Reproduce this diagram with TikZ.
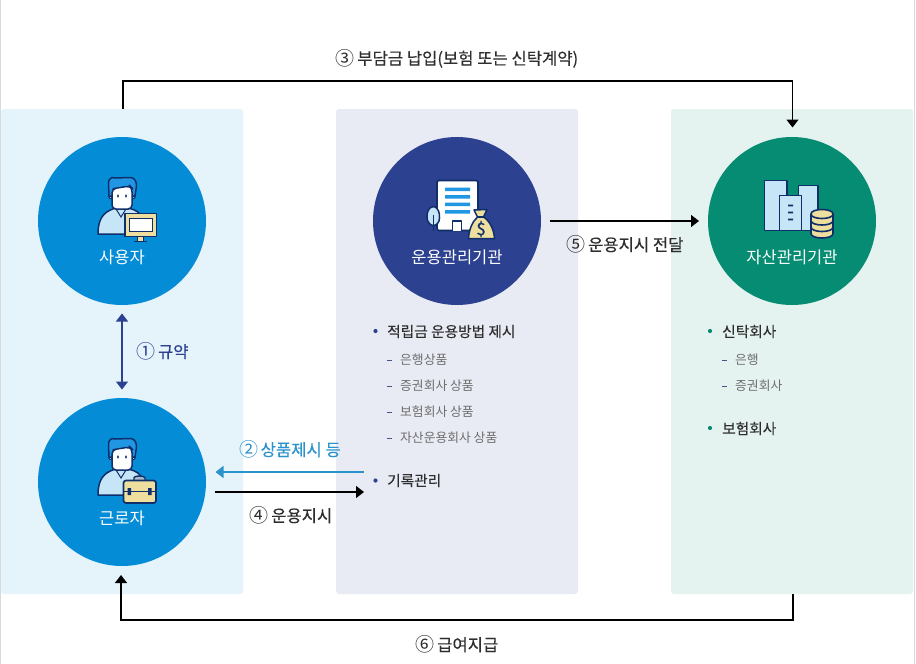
\documentclass[tikz,border=0pt]{standalone}
\usepackage{fontspec}
\setmainfont{Noto Sans CJK KR}
\newfontfamily\medf[FakeBold=0.3]{Noto Sans CJK KR}
\newfontfamily\medg[FakeBold=0.15]{Noto Sans CJK KR}
\newfontfamily\regf{Noto Sans CJK KR}
\newcommand{\cnum}[1]{{\regf\fontsize{19}{18}\selectfont\raisebox{-0.8pt}{#1}}\hspace{-1.2pt}}
\definecolor{pA}{HTML}{E5F3FB}
\definecolor{pB}{HTML}{E8EBF4}
\definecolor{pC}{HTML}{E5F3F0}
\definecolor{cA}{HTML}{048DD6}
\definecolor{cB}{HTML}{2C4190}
\definecolor{cC}{HTML}{068C72}
\definecolor{navy}{HTML}{0F2F6B}
\definecolor{hair}{HTML}{2196E3}
\definecolor{lblue}{HTML}{C6E5F6}
\definecolor{sand}{HTML}{EEDF9F}
\definecolor{tdark}{HTML}{2E2E2E}
\definecolor{tgray}{HTML}{6E6E6E}
\definecolor{arrB}{HTML}{2C4190}
\definecolor{arrL}{HTML}{2A93CC}
\usetikzlibrary{arrows.meta}
\tikzset{
 panel/.style={rounded corners=3pt,inner sep=0pt,minimum width=242pt,minimum height=485pt},
 disc/.style={circle,inner sep=0pt,minimum size=168pt},
 ctitle/.style={text=white,font=\fontsize{16.5}{18}\selectfont,inner sep=0pt,anchor=center},
 lab/.style={font=\medf\fontsize{16.6}{18}\selectfont,inner sep=0pt,anchor=center},
 itemA/.style={text=tdark,font=\medg\fontsize{14.7}{17}\selectfont,inner sep=0pt,anchor=west},
 itemB/.style={text=tgray,font=\fontsize{12.8}{15}\selectfont,inner sep=0pt,anchor=west},
 conn/.style={line width=1.4pt,-{Triangle[length=8pt,width=12pt]}},
 ico/.style={draw=navy,line width=1.5pt,line join=round},
}
\newcommand{\personicon}{%
 \filldraw[ico,fill=lblue] (98,234) .. controls (98,218) and (104,212) .. (114,208.5) -- (130,208.5) .. controls (136,210) and (140,213) .. (141,216) -- (141,234) -- cycle;
 \draw[navy,line width=1pt] (116,209) -- (121,217) -- (126,209);
 \filldraw[ico,fill=lblue,line width=1pt] (110.5,197) circle (1.8pt) (133.5,197) circle (1.8pt);
 \filldraw[ico,fill=hair] (109,196) -- (108.5,184) .. controls (108.5,180) and (110,178) .. (112,177.5) -- (114,178) -- (131,177.5) .. controls (135,178) and (136.5,182) .. (136.5,186) -- (135,196) -- cycle;
 \filldraw[ico,fill=white,rounded corners=4pt] (112,189) -- (117,188) -- (130,186) -- (132,188) -- (132,209) -- (112,209) -- cycle;
 \fill[navy] (118,196) ellipse (1pt and 1.8pt) (126,196) ellipse (1pt and 1.8pt);
}
\begin{document}
\begin{tikzpicture}[x=1pt,y=-1pt]
\useasboundingbox (0,0) rectangle (916,664);
\fill[white] (0,0) rectangle (916,664);
\fill[black!15] (0,0) rectangle (1,664);
\fill[black!15] (914,0) rectangle (915,664);
% panels
\node[panel,fill=pA] (pu) at (122,351.5) {};
\node[panel,fill=pB] (pm) at (457,351.5) {};
\node[panel,fill=pC] (pa) at (792,351.5) {};
% discs
\node[disc,fill=cA] (user) at (122,221) {};
\node[disc,fill=cA] (worker) at (122,482) {};
\node[disc,fill=cB] (mgr) at (457,221) {};
\node[disc,fill=cC] (asset) at (792,221) {};
% icons
\personicon
\begin{scope}[yshift=-261pt]\personicon\end{scope}
% monitor
\filldraw[ico,fill=sand,line width=1.6pt] (125,213.5) rectangle (156.5,236.5);
\fill[white] (129,218) rectangle (152,231.5);
\draw[navy,line width=.8pt] (129,218) rectangle (152,231.5);
\fill[sand] (138,237) rectangle (143,241);
\draw[navy,line width=1pt] (137.5,237) -- (137.5,240.5) (143.5,237) -- (143.5,240.5);
\draw[navy,line width=1.4pt] (134,241.5) -- (147,241.5);
% briefcase
\filldraw[ico,fill=lblue!60!gray,line width=1.4pt] (134,481) -- (134,477.5) .. controls (135,475.5) and (143,475.5) .. (145,477.5) -- (145,481);
\filldraw[ico,fill=sand,rounded corners=2.5pt,line width=1.7pt] (123.5,480.5) rectangle (156,503);
\draw[navy,line width=1pt] (123.5,491) -- (156,491);
\fill[navy] (127.5,488) rectangle (131,495) (148,488) rectangle (151.5,495);
% building
\filldraw[ico,fill=white,rounded corners=1.5pt,line width=1.7pt] (437,180.5) rectangle (478,230.5);
\fill[hair] (445,187.5) rectangle (470,191) (445,195) rectangle (470,198.5) (445,202.5) rectangle (470,206) (445,210) rectangle (470,213.5);
\draw[ico,fill=white] (452.7,230.5) -- (452.7,221) -- (461.7,221) -- (461.7,230.5);
\filldraw[ico,fill=lblue] (433.3,206.5) .. controls (428,207) and (426.5,214) .. (427,218) .. controls (427.5,223) and (431,225.5) .. (433.3,225.5) .. controls (436,225.5) and (439.5,223) .. (439.5,218) .. controls (440,214) and (438.5,207) .. (433.3,206.5) -- cycle;
\draw[navy,line width=1.4pt] (433.3,215) -- (433.3,231);
\filldraw[ico,fill=sand] (474,210) -- (487,209.5) -- (483.5,217) .. controls (490,221) and (494,230) .. (494.5,238.5) -- (468.5,238.5) .. controls (469,230) and (472,222) .. (477.5,217) -- cycle;
\draw[navy,line width=1.2pt] (477,217) -- (484.5,217);
\node[inner sep=0pt,text=navy,font=\medf\fontsize{17}{17}\selectfont] (dollar) at (481,229) {\$};
% assets
\filldraw[ico,fill=lblue,line width=1.7pt] (764.5,230.5) -- (764.5,180.5) -- (787,180.5) -- (787,230.5) -- cycle;
\filldraw[ico,fill=lblue,line width=1.7pt] (798.5,230.5) -- (798.5,185.5) -- (818,185.5) -- (818,230.5) -- cycle;
\filldraw[ico,fill=lblue,line width=1.7pt] (779.5,230.5) -- (779.5,195.5) -- (801.5,195.5) -- (801.5,230.5) -- cycle;
\fill[navy] (788,204.5) rectangle (793,206.3) (788,211.5) rectangle (793,213.3) (788,218.5) rectangle (793,220.3);
% coin stack
\filldraw[ico,fill=sand,line width=1.6pt] (811,214) -- (811,233.5) .. controls (811,239.5) and (833,239.5) .. (833,233.5) -- (833,214) .. controls (833,208) and (811,208) .. (811,214) -- cycle;
\draw[ico,line width=1.6pt] (811,214) .. controls (811,220) and (833,220) .. (833,214);
\draw[ico,line width=1.6pt] (811,220.5) .. controls (811,226.5) and (833,226.5) .. (833,220.5);
\draw[ico,line width=1.6pt] (811,227) .. controls (811,233) and (833,233) .. (833,227);
% circle titles
\node[ctitle] (tu) at (122,257) {사용자};
\node[ctitle] (tw) at (122,518.5) {근로자};
\node[ctitle] (tm) at (457,257.5) {운용관리기관};
\node[ctitle] (ta) at (792,257.5) {자산관리기관};
% items
\fill[cB] (375.5,331) circle (2.1pt) (375.5,480.5) circle (2.1pt);
\node[itemA] (i1) at (387,331.5) {적립금 운용방법 제시};
\node[itemA] (i2) at (387,480.5) {기록관리};
\foreach \n/\yy/\t in {s1/360/은행상품,s2/386/증권회사 상품,s3/412/보험회사 상품,s4/438/자산운용회사 상품}{
 \node[itemB] (\n) at (400,\yy) {\t};
 \fill[cB!70!gray] (387,\yy) rectangle (391.5,\yy+1.3);
}
\fill[cC] (710,331) circle (2.1pt) (710,428) circle (2.1pt);
\node[itemA] (j1) at (722,331.5) {신탁회사};
\node[itemA] (j2) at (722,428.5) {보험회사};
\foreach \n/\yy/\t in {r1/360/은행,r2/386/증권회사}{
 \node[itemB] (\n) at (735,\yy) {\t};
 \fill[cB!70!gray] (722,\yy) rectangle (726.5,\yy+1.3);
}
% labels
\node[lab,text=tdark] (l3) at (457,58.5) {\cnum{③} 부담금 납입(보험 또는 신탁계약)};
\node[lab,text=cB] (l1) at (162.5,351.5) {\cnum{①} 규약};
\node[lab,text=arrL] (l2) at (290,449.5) {\cnum{②} 상품제시 등};
\node[lab,text=tdark] (l4) at (291,515.5) {\cnum{④} 운용지시};
\node[lab,text=tdark] (l5) at (625,244.5) {\cnum{⑤} 운용지시 전달};
\node[lab,text=tdark] (l6) at (457,644.5) {\cnum{⑥} 급여지급};
% connector end points
\coordinate (a3s) at (123,109);
\coordinate (a3e) at (792.5,127.5);
\coordinate (a6s) at (793,594);
\coordinate (a6e) at (121,575);
\coordinate (a1s) at (122,313.5);
\coordinate (a1e) at (122,389.5);
\coordinate (a2s) at (364,472);
\coordinate (a2e) at (215.5,472);
\coordinate (a4s) at (215,492);
\coordinate (a4e) at (364,492);
\coordinate (a5s) at (550,221);
\coordinate (a5e) at (699,221);
% connectors
\draw[conn] (a3s) |- (a3e |- 0,81) -- (a3e);
\draw[conn] (a6s) |- (a6e |- 0,620) -- (a6e);
\draw[line width=1.4pt,color=arrB,{Triangle[length=8pt,width=12pt]}-{Triangle[length=8pt,width=12pt]}] (a1s) -- (a1e);
\draw[conn,color=arrL] (a2s) -- (a2e);
\draw[conn] (a4s) -- (a4e);
\draw[conn] (a5s) -- (a5e);
\end{tikzpicture}
\end{document}
